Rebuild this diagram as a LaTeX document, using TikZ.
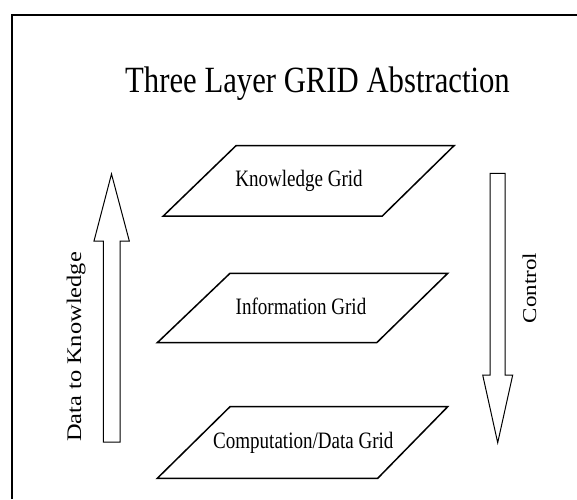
\documentclass[tikz,border=0pt]{standalone}
\usepackage{fontspec}
\setmainfont{Liberation Serif}
\begin{document}
\begin{tikzpicture}[x=1pt,y=-1pt,
  layer/.style={draw=black,line width=1.5pt,line join=miter},
  blockarrow/.style={draw=black,line width=1pt,fill=white},
  framestyle/.style={draw=black,line width=2pt},
  lbl/.style={inner sep=0pt,anchor=base,font=\fontsize{23.5}{26}\selectfont}
]
\useasboundingbox (0,0) rectangle (577,499);
% frame (only left and top sides visible)
\draw[framestyle] (12,499) -- (12,15) -- (577,15);
% title
\node[inner sep=0pt,anchor=base,font=\fontsize{37}{40}\selectfont] (title) at (317.5,92.7) {\scalebox{0.83}[1]{Three Layer GRID Abstraction}};
% layers
\draw[layer] (163.3,216) -- (382.3,216) -- (454,145.7) -- (236,145.7) -- cycle;
\draw[layer] (157.3,342.7) -- (376.7,342.7) -- (447.7,273.3) -- (230,273.3) -- cycle;
\draw[layer] (157.3,478.3) -- (377.7,478.3) -- (447.7,406.7) -- (230,406.7) -- cycle;
\node[lbl] (know) at (299,186.7) {\scalebox{0.81}[1]{Knowledge Grid}};
\node[lbl] (info) at (301,314.3) {\scalebox{0.81}[1]{Information Grid}};
\node[lbl] (comp) at (303.3,448.3) {\scalebox{0.81}[1]{Computation/Data Grid}};
% up arrow
\draw[blockarrow] (103.3,442) -- (103.3,241) -- (94,241) -- (111.5,174) -- (129.3,241) -- (120,241) -- (120,442) -- cycle;
% down arrow
\draw[blockarrow] (490,173.3) -- (505,173.3) -- (505,375) -- (512.7,375) -- (497.7,442.7) -- (482.7,375) -- (490,375) -- cycle;
% side labels
\node[inner sep=0pt,anchor=base,rotate=90,font=\fontsize{24.4}{27}\selectfont] (d2k) at (81,347) {\scalebox{1}[0.85]{Data to Knowledge}};
\node[inner sep=0pt,anchor=base,rotate=90,font=\fontsize{23}{26}\selectfont] (ctrl) at (536,288) {\scalebox{1}[0.85]{Control}};
\end{tikzpicture}
\end{document}
